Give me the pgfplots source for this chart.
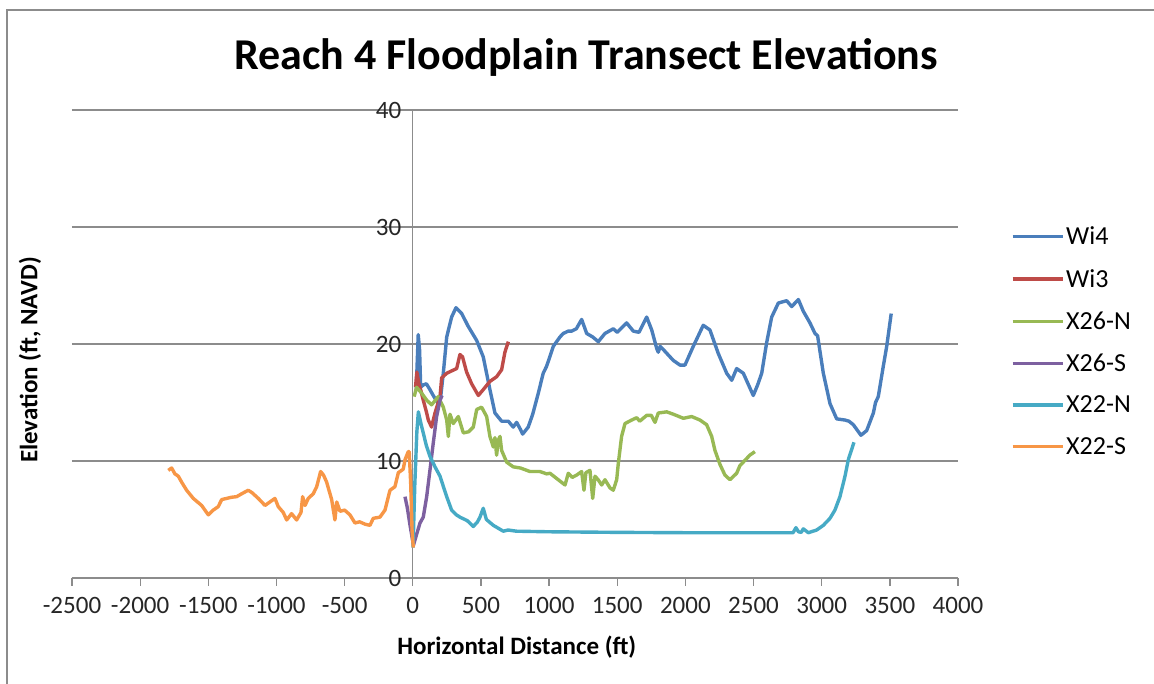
\documentclass[border=0pt]{standalone}
\usepackage{fontspec}
\setmainfont{Carlito}
\usepackage{pgfplots}
\pgfplotsset{compat=1.18}
\definecolor{wifour}{HTML}{4A7EBB}
\definecolor{withree}{HTML}{BE4B48}
\definecolor{xsixn}{HTML}{98B954}
\definecolor{xsixs}{HTML}{7D60A0}
\definecolor{xtwon}{HTML}{46AAC5}
\definecolor{xtwos}{HTML}{F79646}
\definecolor{axisgray}{HTML}{8C8C8C}

\begin{document}
\begin{tikzpicture}[x=1pt,y=1pt]
\useasboundingbox (0,0) rectangle (1154,684);
\draw[line width=2pt, axisgray] (7,0) -- (7,674) -- (1154,674);
\node[font=\bfseries\fontsize{44}{48}\selectfont] at (586,626) {Reach 4 Floodplain Transect Elevations};
\begin{axis}[
    at={(72pt,106pt)}, anchor=south west,
    scale only axis, width=886pt, height=468pt,
    axis lines=middle,
    axis line style={draw=axisgray, line width=1.3pt, -},
    xmin=-2500, xmax=4000, ymin=0, ymax=40,
    enlargelimits=false, clip=false,
    xtick={-2500,-2000,...,4000}, ytick={0,10,...,40},
    ymajorgrids, grid style={axisgray, line width=1.3pt},
    tick style={axisgray, line width=1.3pt},
    major tick length=8pt, tick align=outside,
    hide obscured x ticks=false, hide obscured y ticks=false,
    tick label style={font=\fontsize{25}{29}\selectfont, text=black!85},
    xticklabel style={yshift=-8pt},
    /pgf/number format/assume math mode=true,
    /pgf/number format/1000 sep={},
    xlabel={Horizontal Distance (ft)},
    xlabel style={at={(axis description cs:0.502,0)}, anchor=center, yshift=-69pt,
        font=\bfseries\fontsize{25}{29}\selectfont},
    ylabel={Elevation (ft, NAVD)},
    ylabel style={at={(axis description cs:-0.0474,0.466)}, anchor=center, rotate=90,
        font=\bfseries\fontsize{25}{29}\selectfont},
    legend style={at={(axis description cs:1.056,0.759)}, anchor=north west,
        draw=none, fill=none, font=\fontsize{26}{30}\selectfont, row sep=19pt},
    legend cell align=left,
    legend image code/.code={\draw[#1] (0pt,0pt) -- (50pt,0pt);},
    every axis plot/.append style={line width=3.4pt, line join=round},
]
% Wi4
\addplot[wifour] coordinates {(25,16.0)(40,20.8)(50,19.5)(58,16.3)(77,16.5)(100,16.6)(126,16.1)(150,15.6)(187,14.9)(205,15.5)(224,17.5)(249,20.6)(285,22.3)(317,23.1)(359,22.6)(407,21.5)(469,20.3)(517,18.9)(566,16.1)(603,14.1)(652,13.4)(701,13.4)(737,12.9)(762,13.3)(790,12.7)(806,12.3)(847,12.9)(880,14.0)(921,15.8)(957,17.5)(982,18.1)(1031,19.8)(1080,20.6)(1104,20.9)(1141,21.1)(1166,21.1)(1200,21.3)(1239,22.1)(1276,20.9)(1320,20.6)(1361,20.2)(1410,20.9)(1471,21.3)(1500,21.0)(1569,21.8)(1618,21.1)(1660,21.0)(1716,22.3)(1753,21.2)(1790,19.6)(1801,19.3)(1815,19.8)(1840,19.5)(1911,18.6)(1960,18.2)(1997,18.2)(2058,19.8)(2131,21.6)(2180,21.2)(2241,19.2)(2303,17.5)(2340,16.9)(2376,17.9)(2425,17.5)(2498,15.6)(2530,16.5)(2560,17.5)(2596,20.1)(2633,22.3)(2682,23.5)(2743,23.7)(2780,23.2)(2829,23.8)(2865,22.8)(2914,21.8)(2951,20.9)(2970,20.7)(3012,17.5)(3061,14.9)(3110,13.6)(3171,13.5)(3200,13.4)(3232,13.1)(3288,12.2)(3330,12.6)(3379,14.1)(3395,15.0)(3415,15.5)(3452,18.1)(3477,19.8)(3510,22.6)};
\addlegendentry{Wi4}
% Wi3
\addplot[withree] coordinates {(20,16.3)(30,17.6)(45,16.6)(60,16.0)(77,15.2)(100,14.2)(114,13.5)(138,12.9)(163,14.1)(200,15.5)(212,17.1)(249,17.5)(285,17.7)(322,17.9)(346,19.1)(365,18.9)(395,17.6)(432,16.6)(481,15.6)(517,16.1)(566,16.8)(615,17.2)(652,17.8)(676,19.3)(701,20.2)};
\addlegendentry{Wi3}
% X26-N
\addplot[xsixn] coordinates {(10,15.5)(28,16.3)(65,15.8)(102,15.2)(138,14.8)(187,15.5)(224,14.6)(249,13.5)(261,12.1)(273,14.0)(297,13.2)(334,13.8)(371,12.4)(410,12.5)(444,12.9)(469,14.4)(505,14.6)(542,13.8)(566,12.1)(591,11.2)(603,12.0)(615,10.5)(628,11.8)(640,12.1)(652,10.9)(689,9.9)(737,9.5)(790,9.4)(860,9.1)(933,9.1)(982,8.9)(1007,8.95)(1056,8.5)(1117,7.95)(1141,8.95)(1170,8.6)(1203,8.8)(1239,9.1)(1256,7.5)(1270,9.0)(1300,9.2)(1320,6.8)(1337,8.7)(1360,8.4)(1386,7.95)(1410,8.4)(1447,7.7)(1471,7.5)(1496,8.4)(1508,9.8)(1532,12.1)(1557,13.2)(1606,13.5)(1643,13.7)(1665,13.4)(1716,13.9)(1750,13.9)(1777,13.3)(1801,14.1)(1863,14.2)(1911,14.0)(1985,13.65)(2046,13.8)(2107,13.5)(2156,13.1)(2193,12.1)(2217,10.9)(2254,9.7)(2290,8.8)(2327,8.4)(2376,8.95)(2400,9.6)(2473,10.5)(2510,10.8)};
\addlegendentry{X26-N}
% X26-S
\addplot[xsixs] coordinates {(-57,6.95)(-40,6.0)(-20,4.5)(5,2.8)(30,3.8)(53,4.7)(77,5.2)(102,6.95)(126,9.2)(150,11.5)(175,13.8)(200,15.2)(215,15.6)};
\addlegendentry{X26-S}
% X22-N
\addplot[xtwon] coordinates {(2,2.6)(15,8)(30,12.5)(41,14.2)(60,13.2)(77,12.4)(100,11.3)(126,10.4)(163,9.5)(200,8.7)(225,7.8)(249,6.95)(285,5.8)(320,5.4)(346,5.2)(400,4.9)(444,4.4)(475,4.8)(493,5.2)(517,5.96)(540,5.0)(591,4.5)(664,4.0)(700,4.1)(760,4.0)(1000,3.95)(1500,3.9)(2000,3.87)(2500,3.87)(2790,3.87)(2811,4.3)(2830,3.95)(2850,3.9)(2865,4.2)(2902,3.87)(2963,4.1)(3012,4.5)(3061,5.1)(3097,5.8)(3134,6.95)(3171,8.7)(3195,10.1)(3237,11.6)};
\addlegendentry{X22-N}
% X22-S
\addplot[xtwos] coordinates {(-1794,9.2)(-1769,9.4)(-1745,8.9)(-1720,8.7)(-1696,8.2)(-1659,7.5)(-1610,6.8)(-1549,6.2)(-1500,5.4)(-1464,5.8)(-1427,6.1)(-1402,6.7)(-1366,6.8)(-1330,6.9)(-1292,6.95)(-1255,7.2)(-1207,7.5)(-1180,7.3)(-1133,6.8)(-1084,6.2)(-1048,6.5)(-1011,6.8)(-987,6.1)(-950,5.6)(-925,4.96)(-889,5.5)(-852,4.96)(-820,5.6)(-808,6.95)(-790,6.2)(-767,6.8)(-730,7.2)(-705,7.8)(-676,9.1)(-655,8.8)(-632,8.2)(-595,6.7)(-571,4.96)(-558,6.5)(-534,5.7)(-500,5.8)(-461,5.4)(-424,4.7)(-390,4.8)(-350,4.6)(-314,4.5)(-290,5.1)(-241,5.2)(-204,5.8)(-167,7.5)(-131,7.8)(-106,9.0)(-70,9.3)(-57,10.1)(-33,10.8)(-26,10.8)(-15,8)(-5,4)(4,2.6)};
\addlegendentry{X22-S}
\end{axis}
\end{tikzpicture}
\end{document}
